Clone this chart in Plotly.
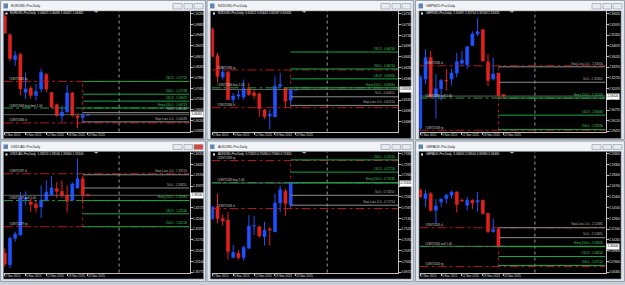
import plotly.graph_objects as go

W, H = 625, 285

# ---------------- data ----------------
date_tick_index = [0, 4, 8, 12, 16]
date_tick_text = ["2 Nov 2015", "9 Nov 2015", "12 Nov 2015", "18 Nov 2015", "23 Nov 2015"]

window_titles = ["EURUSD-Pro,Daily", "NZDUSD-Pro,Daily", "GBPNZD-Pro,Daily",
                 "USDCAD-Pro,Daily", "AUDUSD-Pro,Daily", "GBPAUD-Pro,Daily"]
header_quotes = ["1.06420 1.06460 1.06421 1.06461", "0.65612 0.65642 0.65597 0.65630",
                 "2.31697 2.31754 2.31503 2.31620", "1.33120 1.33140 1.33060 1.33100",
                 "0.72420 0.72450 0.72400 0.72420", "2.09400 2.09500 2.09360 2.09440"]

# candles: (open, high, low, close)
eurusd_candles = [
    (1.1019, 1.1031, 1.0953, 1.0956), (1.0950, 1.0956, 1.0850, 1.0859),
    (1.0856, 1.0888, 1.0831, 1.0871), (1.0875, 1.0881, 1.0719, 1.0744),
    (1.0731, 1.0806, 1.0706, 1.0744), (1.0746, 1.0756, 1.0706, 1.0719),
    (1.0719, 1.0763, 1.0700, 1.0734), (1.0744, 1.0821, 1.0731, 1.0806),
    (1.0799, 1.0804, 1.0731, 1.0744), (1.0730, 1.0731, 1.0669, 1.0675),
    (1.0684, 1.0688, 1.0638, 1.0644), (1.0641, 1.0681, 1.0619, 1.0656),
    (1.0656, 1.0759, 1.0654, 1.0728), (1.0729, 1.0731, 1.0638, 1.0644),
    (1.0641, 1.0650, 1.0594, 1.0635), (1.0635, 1.0656, 1.0616, 1.0644),
    (1.0644, 1.0647, 1.0641, 1.0646)]
nzdusd_candles = [
    (0.6745, 0.6750, 0.6660, 0.6663), (0.6665, 0.6673, 0.6585, 0.6603),
    (0.6601, 0.6633, 0.6593, 0.6615), (0.6615, 0.6623, 0.6531, 0.6533),
    (0.6533, 0.6553, 0.6521, 0.6543), (0.6543, 0.6563, 0.6533, 0.6547),
    (0.6540, 0.6593, 0.6533, 0.6565), (0.6565, 0.6583, 0.6543, 0.6548),
    (0.6553, 0.6563, 0.6533, 0.6545), (0.6550, 0.6553, 0.6481, 0.6505),
    (0.6501, 0.6505, 0.6475, 0.6481), (0.6483, 0.6503, 0.6443, 0.6488),
    (0.6481, 0.6603, 0.6479, 0.6573), (0.6573, 0.6613, 0.6568, 0.6578),
    (0.6568, 0.6568, 0.6508, 0.6528), (0.6531, 0.6565, 0.6515, 0.6561),
    (0.6561, 0.6564, 0.6560, 0.6563)]
gbpnzd_candles = [
    (2.2966, 2.3290, 2.2950, 2.3276), (2.3266, 2.3446, 2.3236, 2.3396),
    (2.3396, 2.3436, 2.3146, 2.3156), (2.3156, 2.3296, 2.3026, 2.3206),
    (2.3206, 2.3266, 2.3136, 2.3256), (2.3258, 2.3326, 2.3196, 2.3254),
    (2.3266, 2.3326, 2.3226, 2.3302), (2.3302, 2.3426, 2.3276, 2.3370),
    (2.3362, 2.3436, 2.3346, 2.3380), (2.3352, 2.3466, 2.3326, 2.3462),
    (2.3470, 2.3556, 2.3466, 2.3540), (2.3540, 2.3636, 2.3526, 2.3554),
    (2.3566, 2.3570, 2.3370, 2.3376), (2.3370, 2.3416, 2.3222, 2.3256),
    (2.3266, 2.3396, 2.3256, 2.3296), (2.3302, 2.3302, 2.3156, 2.3166),
    (2.3170, 2.3176, 2.3150, 2.3162)]
usdcad_candles = [
    (1.3135, 1.3150, 1.3095, 1.3102), (1.3100, 1.3185, 1.3090, 1.3180),
    (1.3180, 1.3200, 1.3170, 1.3193), (1.3190, 1.3320, 1.3188, 1.3300),
    (1.3298, 1.3322, 1.3280, 1.3302), (1.3290, 1.3300, 1.3260, 1.3282),
    (1.3283, 1.3295, 1.3258, 1.3272), (1.3275, 1.3340, 1.3242, 1.3295),
    (1.3295, 1.3355, 1.3292, 1.3320), (1.3312, 1.3368, 1.3308, 1.3332),
    (1.3330, 1.3350, 1.3302, 1.3322), (1.3322, 1.3355, 1.3302, 1.3310),
    (1.3310, 1.3340, 1.3258, 1.3292), (1.3295, 1.3350, 1.3292, 1.3344),
    (1.3332, 1.3420, 1.3330, 1.3360), (1.3360, 1.3365, 1.3285, 1.3310),
    (1.3312, 1.3314, 1.3306, 1.3310)]
audusd_candles = [
    (0.7135, 0.7172, 0.7130, 0.7170), (0.7170, 0.7210, 0.7120, 0.7135),
    (0.7135, 0.7147, 0.7113, 0.7127), (0.7130, 0.7155, 0.7010, 0.7035),
    (0.7017, 0.7055, 0.7015, 0.7032), (0.7030, 0.7040, 0.7010, 0.7017),
    (0.7017, 0.7053, 0.7007, 0.7047), (0.7045, 0.7145, 0.7043, 0.7112),
    (0.7112, 0.7143, 0.7085, 0.7113), (0.7110, 0.7113, 0.7077, 0.7082),
    (0.7080, 0.7125, 0.7053, 0.7099), (0.7103, 0.7110, 0.7053, 0.7100),
    (0.7095, 0.7210, 0.7093, 0.7182), (0.7182, 0.7235, 0.7155, 0.7222),
    (0.7217, 0.7225, 0.7143, 0.7180), (0.7175, 0.7245, 0.7170, 0.7242),
    (0.7242, 0.7245, 0.7240, 0.7242)]
gbpaud_candles = [
    (2.1620, 2.1640, 2.1530, 2.1540), (2.1520, 2.1620, 2.1420, 2.1580),
    (2.1580, 2.1600, 2.1360, 2.1380), (2.1380, 2.1512, 2.1220, 2.1432),
    (2.1480, 2.1528, 2.1420, 2.1512), (2.1520, 2.1580, 2.1460, 2.1560),
    (2.1560, 2.1620, 2.1520, 2.1600), (2.1600, 2.1608, 2.1352, 2.1448),
    (2.1500, 2.1520, 2.1480, 2.1490), (2.1440, 2.1540, 2.1380, 2.1496),
    (2.1500, 2.1512, 2.1392, 2.1468), (2.1480, 2.1600, 2.1360, 2.1496),
    (2.1500, 2.1508, 2.1328, 2.1340), (2.1340, 2.1352, 2.1100, 2.1120),
    (2.1120, 2.1280, 2.1108, 2.1148), (2.1152, 2.1160, 2.0928, 2.0940),
    (2.0940, 2.0950, 2.0936, 2.0944)]

eurusd_ticks = [1.10290, 1.09885, 1.09480, 1.09075, 1.08670, 1.08265, 1.07860, 1.07455, 1.07050, 1.06645, 1.06240, 1.05835]
nzdusd_ticks = [0.67910, 0.67585, 0.67260, 0.66935, 0.66610, 0.66285, 0.65960, 0.65635, 0.65310, 0.64985, 0.64660]
gbpnzd_ticks = [2.36620, 2.35970, 2.35320, 2.34670, 2.34020, 2.33370, 2.32720, 2.32070, 2.31420, 2.30770, 2.30120, 2.29470]
usdcad_ticks = [1.34350, 1.34025, 1.33700, 1.33375, 1.33050, 1.32725, 1.32400, 1.32075, 1.31750, 1.31425, 1.31100, 1.30775]
audusd_ticks = [0.73300, 0.72975, 0.72650, 0.72325, 0.72000, 0.71675, 0.71350, 0.71025, 0.70700, 0.70375, 0.70050, 0.69725]
gbpaud_ticks = [2.20600, 2.19300, 2.18000, 2.16700, 2.15400, 2.14100, 2.12800, 2.11500, 2.10200, 2.08900, 2.07600, 2.06300]

eurusd_range = [1.0582, 1.1040]
nzdusd_range = [0.6436, 0.6800]
gbpnzd_range = [2.2946, 2.3680]
usdcad_range = [1.30765, 1.3441]
audusd_range = [0.69715, 0.7336]
gbpaud_range = [2.0626, 2.2084]

buy_fib_names = ["261.8", "200.0", "161.8", "Entry 100.0", "50.0", "Stop Loss 0.0"]
buy5_fib_names = ["200.0", "161.8", "Entry 100.0", "50.0", "Stop Loss 0.0"]
sell_fib_names = ["Stop Loss 0.0", "50.0", "Entry 100.0", "161.8", "200.0"]

eurusd_fib_prices = [1.07725, 1.07238, 1.06975, 1.06713, 1.06538, 1.06188]
nzdusd_fib_prices = [0.66760, 0.66250, 0.65950, 0.65680, 0.65410, 0.65150]
gbpnzd_fib_prices = [2.33400, 2.32460, 2.31500, 2.30460, 2.29580]
usdcad_fib_prices = [1.33720, 1.33320, 1.32940, 1.32540, 1.32150]
audusd_fib_prices = [0.73120, 0.72750, 0.72430, 0.72050, 0.71750]
gbpaud_fib_prices = [2.11680, 2.10480, 2.09400, 2.08200, 2.07120]

# order lines: (tp, entry, sl)
order_kinds = ["tp", "entry", "sl"]
eurusd_orders = [1.07725, 1.06713, 1.06150]
nzdusd_orders = [0.66220, 0.65680, 0.65080]
gbpnzd_orders = [2.29540, 2.31500, 2.33460]
usdcad_orders = [1.32150, 1.32940, 1.33750]
audusd_orders = [0.73100, 0.72430, 0.71650]
gbpaud_orders = [2.07000, 2.09400, 2.11680]
order_tickets = ["#13971363", "#13971336", "#13971358", "#13971297", "#13971329", "#13971320"]
order_sides = ["buy limit", "buy", "sell", "sell", "buy", "sell"]

bid_prices = [1.06461, 0.65630, 2.31620, 1.33100, 0.72420, 2.09440]

candles_all = [eurusd_candles, nzdusd_candles, gbpnzd_candles, usdcad_candles, audusd_candles, gbpaud_candles]
ticks_all = [eurusd_ticks, nzdusd_ticks, gbpnzd_ticks, usdcad_ticks, audusd_ticks, gbpaud_ticks]
ranges_all = [eurusd_range, nzdusd_range, gbpnzd_range, usdcad_range, audusd_range, gbpaud_range]
fib_names_all = [buy_fib_names, buy_fib_names, sell_fib_names, sell_fib_names, buy5_fib_names, sell_fib_names]
fib_prices_all = [eurusd_fib_prices, nzdusd_fib_prices, gbpnzd_fib_prices, usdcad_fib_prices, audusd_fib_prices, gbpaud_fib_prices]
orders_all = [eurusd_orders, nzdusd_orders, gbpnzd_orders, usdcad_orders, audusd_orders, gbpaud_orders]

FIB_START = 15
SEPARATOR_X = 22
SHIFT_X = 17.6
XR = [-0.15, 35.55]

# ---------------- layout geometry (pixels) ----------------
COLS = [(4, 189.5), (211.5, 398), (419.5, 605.5)]
ROWS = [(11, 132.5), (153, 274.5)]
BLACK_X = [(3.5, 203.5), (210.5, 411), (419, 621)]
BLACK_Y = [(11, 139.5), (152.5, 281)]
WIN_X = [(0.5, 205.5), (207, 413.5), (415.5, 624.5)]
WIN_Y = [(0.5, 140.5), (142, 283.5)]
TITLE_Y = [(1, 11), (143, 152.5)]
DATE_Y = [136, 277.7]

RED = "#e0221f"
BLUE = "#2052ff"
GREEN = "#13a844"
GRAY = "#8c8c8c"
ORDER_RED = "#b3171b"
FONT = "Liberation Sans"


def px(x):
    return x / W


def py(y):
    return 1 - y / H


fig = go.Figure()
shapes = []
annotations = []
axes = {}

for k in range(6):
    i = k + 1
    col, row = k % 3, k // 3
    xa = "x" if i == 1 else f"x{i}"
    ya = "y" if i == 1 else f"y{i}"
    candles = candles_all[k]
    yr = ranges_all[k]
    plot_h = ROWS[row][1] - ROWS[row][0]

    # window chrome
    shapes.append(dict(type="rect", xref="paper", yref="paper", layer="below",
                       x0=px(WIN_X[col][0]), x1=px(WIN_X[col][1]),
                       y0=py(WIN_Y[row][1]), y1=py(WIN_Y[row][0]),
                       fillcolor="#dde2e8", line=dict(color="#98a2ad", width=1)))
    shapes.append(dict(type="rect", xref="paper", yref="paper", layer="below",
                       x0=px(WIN_X[col][0] + 1), x1=px(WIN_X[col][1] - 1),
                       y0=py(TITLE_Y[row][1]), y1=py(TITLE_Y[row][0]),
                       fillcolor="#f1f3f6", line=dict(width=0)))
    shapes.append(dict(type="rect", xref="paper", yref="paper", layer="below",
                       x0=px(BLACK_X[col][0]), x1=px(BLACK_X[col][1]),
                       y0=py(BLACK_Y[row][1]), y1=py(BLACK_Y[row][0]),
                       fillcolor="black", line=dict(color="#7d858e", width=0.6)))
    # icon + title
    ty0, ty1 = TITLE_Y[row]
    shapes.append(dict(type="rect", xref="paper", yref="paper", layer="below",
                       x0=px(WIN_X[col][0] + 3), x1=px(WIN_X[col][0] + 7.5),
                       y0=py(ty1 - 2.5), y1=py(ty0 + 2.5),
                       fillcolor="#5f86b3", line=dict(width=0)))
    annotations.append(dict(xref="paper", yref="paper", x=px(WIN_X[col][0] + 9.5),
                            y=py((ty0 + ty1) / 2), xanchor="left", yanchor="middle",
                            text=window_titles[k], showarrow=False, borderpad=0,
                            font=dict(family=FONT, size=3.4, color="#1c1c1c")))
    # title buttons
    right = WIN_X[col][1]
    for b, (o0, o1) in enumerate([(-32.5, -23.5), (-21.5, -13), (-11.5, -2.5)]):
        active_close = (k == 3 and b == 2)
        shapes.append(dict(type="rect", xref="paper", yref="paper", layer="below",
                           x0=px(right + o0), x1=px(right + o1),
                           y0=py(ty1 - 2), y1=py(ty0 + 2.5),
                           fillcolor="#d9453a" if active_close else "#e7ebf0",
                           line=dict(color="#8a96a3", width=0.6)))

    # price labels hidden behind the bid box are left out, as in the terminal
    shown_ticks = [t for t in ticks_all[k]
                   if abs(t - bid_prices[k]) / (yr[1] - yr[0]) * plot_h > 2.6]

    # axes
    xd = [px(COLS[col][0]), px(COLS[col][1])]
    yd = [py(ROWS[row][1]), py(ROWS[row][0])]
    axes["xaxis" if i == 1 else f"xaxis{i}"] = dict(
        domain=xd, anchor=ya, range=XR, showgrid=False, zeroline=False,
        showticklabels=False, ticks="outside", ticklen=2, tickcolor="#bdbdbd",
        tickvals=date_tick_index, showline=True, linecolor="#bdbdbd", linewidth=1,
        fixedrange=True)
    axes["yaxis" if i == 1 else f"yaxis{i}"] = dict(
        domain=yd, anchor=xa, side="right", range=yr, showgrid=False, zeroline=False,
        tickvals=shown_ticks, tickformat=".5f", ticks="outside", ticklen=2,
        tickcolor="#bdbdbd", tickfont=dict(family=FONT, size=3, color="#e6e6e6"),
        showline=True, linecolor="#bdbdbd", linewidth=1, fixedrange=True)

    # period separator (dotted) and chart shift marker
    shapes.append(dict(type="line", xref=xa, yref=f"{ya} domain", x0=SEPARATOR_X, x1=SEPARATOR_X,
                       y0=0, y1=1, layer="below", line=dict(color="#9a9a9a", width=1, dash="dot")))
    shapes.append(dict(type="path", xref=xa, yref=f"{ya} domain", layer="above",
                       path=f"M {SHIFT_X - 0.45},1 L {SHIFT_X + 0.45},1 L {SHIFT_X},0.985 Z",
                       fillcolor="#a8a8a8", line=dict(width=0)))

    # bid line
    fig.add_trace(go.Scatter(x=XR, y=[bid_prices[k]] * 2, mode="lines", xaxis=xa, yaxis=ya,
                             line=dict(color="#7a7a7a", width=0.8), hoverinfo="skip", showlegend=False))

    # order lines
    orders = orders_all[k]
    for kind, price in zip(order_kinds, orders):
        color = "#1f9a3c" if kind == "entry" else ORDER_RED
        fig.add_trace(go.Scatter(x=XR, y=[price, price], mode="lines", xaxis=xa, yaxis=ya,
                                 line=dict(color=color, width=1, dash="dashdot"),
                                 hoverinfo="skip", showlegend=False))
        if kind == "entry":
            lab = f"{order_tickets[k]} {order_sides[k]} 1.00"
        else:
            lab = f"{order_tickets[k]} {kind}"
        annotations.append(dict(xref="paper", yref=ya, x=px(COLS[col][0] + 4), y=price,
                                xanchor="left", yanchor="bottom", yshift=-0.6, text=lab,
                                showarrow=False, borderpad=0,
                                font=dict(family=FONT, size=3, color="#cfcfcf")))
    # connector
    fig.add_trace(go.Scatter(x=[FIB_START, FIB_START], y=[min(orders), max(orders)], mode="lines",
                             xaxis=xa, yaxis=ya, line=dict(color="#c0141a", width=1, dash="dot"),
                             hoverinfo="skip", showlegend=False))

    # fib levels
    for name, price in zip(fib_names_all[k], fib_prices_all[k]):
        color = GRAY if name in ("50.0", "Stop Loss 0.0") else GREEN
        fig.add_trace(go.Scatter(x=[FIB_START, XR[1]], y=[price, price], mode="lines",
                                 xaxis=xa, yaxis=ya, line=dict(color=color, width=1),
                                 hoverinfo="skip", showlegend=False))
        annotations.append(dict(xref="paper", yref=ya, x=px(COLS[col][1] - 2), y=price,
                                xanchor="right", yanchor="bottom", yshift=0.3,
                                text=f"{name} - {price:.5f}", showarrow=False, borderpad=0,
                                font=dict(family=FONT, size=3, color="#3ccf5c" if color == GREEN else "#b5b5b5")))

    # candles
    idx = list(range(len(candles)))
    minh = (yr[1] - yr[0]) * 0.004
    bases = [min(o, c) for (o, h, l, c) in candles]
    heights = [max(abs(c - o), minh) for (o, h, l, c) in candles]
    colors = [BLUE if c >= o else RED for (o, h, l, c) in candles]
    for col_name in (BLUE, RED):
        xs, ys = [], []
        for j, (o, h, l, c) in enumerate(candles):
            if colors[j] == col_name:
                xs += [j, j, None]
                ys += [l, h, None]
        fig.add_trace(go.Scatter(x=xs, y=ys, mode="lines", xaxis=xa, yaxis=ya,
                                 line=dict(color=col_name, width=1), hoverinfo="skip", showlegend=False))
    fig.add_trace(go.Bar(x=idx, y=heights, base=bases, width=0.6, xaxis=xa, yaxis=ya,
                         marker=dict(color=colors, line=dict(color=colors, width=0.5)),
                         hoverinfo="skip", showlegend=False))

    # header text inside chart
    top = ROWS[row][0]
    shapes.append(dict(type="rect", xref="paper", yref="paper", layer="above",
                       x0=px(COLS[col][0] + 1.5), x1=px(COLS[col][0] + 3.5),
                       y0=py(top + 3.6), y1=py(top + 1.6), fillcolor="#e8e8e8", line=dict(width=0)))
    annotations.append(dict(xref="paper", yref="paper", x=px(COLS[col][0] + 5), y=py(top + 2.5),
                            xanchor="left", yanchor="middle", borderpad=0,
                            text=f"{window_titles[k]}  {header_quotes[k]}", showarrow=False,
                            font=dict(family=FONT, size=3, color="#e6e6e6")))

    # bid box on price axis
    annotations.append(dict(xref="paper", yref=ya, x=px(COLS[col][1] + 0.8), y=bid_prices[k],
                            xanchor="left", yanchor="middle", text=f"{bid_prices[k]:.5f}",
                            showarrow=False, bgcolor="white", borderpad=0.4,
                            font=dict(family=FONT, size=3, color="black")))

    # date labels
    for ti, tt in zip(date_tick_index, date_tick_text):
        annotations.append(dict(xref=xa, yref="paper", x=ti - 0.1, y=py(DATE_Y[row]),
                                xanchor="left", yanchor="middle", text=tt, showarrow=False,
                                borderpad=0, font=dict(family=FONT, size=3, color="#dcdcdc")))

fig.update_layout(
    width=W, height=H, autosize=False,
    margin=dict(l=0, r=0, t=0, b=0, pad=0),
    paper_bgcolor="#c9cfd6", plot_bgcolor="black",
    showlegend=False, barmode="overlay",
    shapes=shapes, annotations=annotations,
    **axes)

fig.write_html("out.html")
